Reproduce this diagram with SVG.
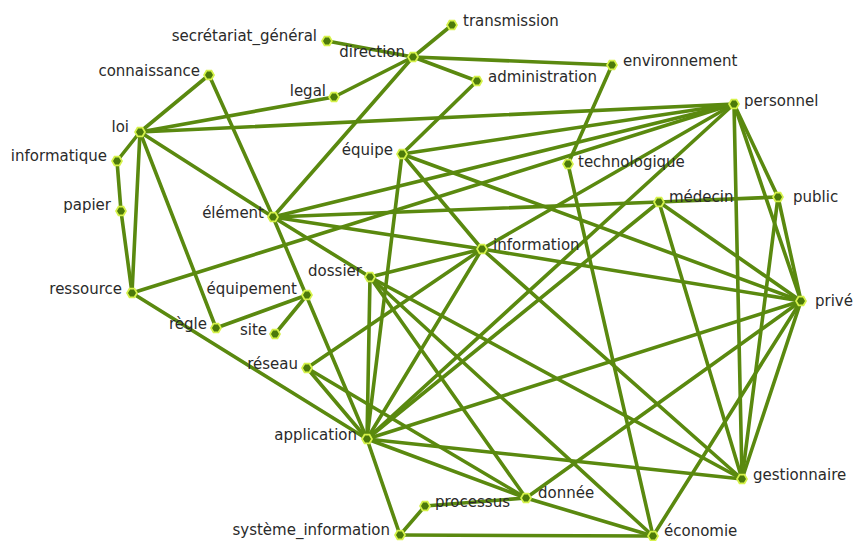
<svg xmlns="http://www.w3.org/2000/svg" xmlns:xlink="http://www.w3.org/1999/xlink" width="855" height="541" viewBox="0 0 855 541">
<style>
.e line{stroke:#5a890f;stroke-width:3.6;stroke-linecap:round}
.n use{fill:#4c7a0a;stroke:#d6f24a;stroke-width:1.7}
text{font-family:"DejaVu Sans","Liberation Sans",sans-serif;font-size:15px;fill:#2a2a2a}
.r{text-anchor:end}
</style>
<defs>
<polygon id="hx" points="5,0 2.5,4.3 -2.5,4.3 -5,0 -2.5,-4.3 2.5,-4.3"/>
</defs>
<rect width="855" height="541" fill="#ffffff"/>
<g class="e" id="connectors">
<line x1="327" y1="41" x2="413" y2="57"/>
<line x1="413" y1="57" x2="452" y2="25"/>
<line x1="413" y1="57" x2="612" y2="65"/>
<line x1="413" y1="57" x2="477" y2="81"/>
<line x1="413" y1="57" x2="334" y2="97"/>
<line x1="413" y1="57" x2="273" y2="217"/>
<line x1="477" y1="81" x2="402" y2="154"/>
<line x1="612" y1="65" x2="568" y2="164"/>
<line x1="568" y1="164" x2="653" y2="536"/>
<line x1="334" y1="97" x2="140" y2="132"/>
<line x1="209" y1="75" x2="140" y2="132"/>
<line x1="209" y1="75" x2="273" y2="217"/>
<line x1="273" y1="217" x2="367" y2="439"/>
<line x1="140" y1="132" x2="117" y2="161"/>
<line x1="140" y1="132" x2="734" y2="104"/>
<line x1="140" y1="132" x2="132" y2="293"/>
<line x1="140" y1="132" x2="216" y2="328"/>
<line x1="140" y1="132" x2="273" y2="217"/>
<line x1="117" y1="161" x2="121" y2="211"/>
<line x1="121" y1="211" x2="132" y2="293"/>
<line x1="132" y1="293" x2="734" y2="104"/>
<line x1="132" y1="293" x2="367" y2="439"/>
<line x1="216" y1="328" x2="307" y2="295"/>
<line x1="307" y1="295" x2="275" y2="334"/>
<line x1="273" y1="217" x2="734" y2="104"/>
<line x1="273" y1="217" x2="659" y2="202"/>
<line x1="659" y1="202" x2="778" y2="197"/>
<line x1="273" y1="217" x2="482" y2="249"/>
<line x1="482" y1="249" x2="801" y2="301"/>
<line x1="273" y1="217" x2="370" y2="277"/>
<line x1="370" y1="277" x2="742" y2="479"/>
<line x1="370" y1="277" x2="367" y2="439"/>
<line x1="370" y1="277" x2="526" y2="498"/>
<line x1="370" y1="277" x2="482" y2="249"/>
<line x1="370" y1="277" x2="653" y2="536"/>
<line x1="402" y1="154" x2="734" y2="104"/>
<line x1="402" y1="154" x2="367" y2="439"/>
<line x1="402" y1="154" x2="482" y2="249"/>
<line x1="402" y1="154" x2="801" y2="301"/>
<line x1="482" y1="249" x2="734" y2="104"/>
<line x1="482" y1="249" x2="367" y2="439"/>
<line x1="482" y1="249" x2="742" y2="479"/>
<line x1="482" y1="249" x2="307" y2="368"/>
<line x1="307" y1="368" x2="367" y2="439"/>
<line x1="307" y1="368" x2="526" y2="498"/>
<line x1="734" y1="104" x2="367" y2="439"/>
<line x1="659" y1="202" x2="367" y2="439"/>
<line x1="734" y1="104" x2="742" y2="479"/>
<line x1="734" y1="104" x2="778" y2="197"/>
<line x1="734" y1="104" x2="801" y2="301"/>
<line x1="659" y1="202" x2="801" y2="301"/>
<line x1="659" y1="202" x2="742" y2="479"/>
<line x1="778" y1="197" x2="801" y2="301"/>
<line x1="778" y1="197" x2="742" y2="479"/>
<line x1="801" y1="301" x2="742" y2="479"/>
<line x1="801" y1="301" x2="653" y2="536"/>
<line x1="801" y1="301" x2="526" y2="498"/>
<line x1="801" y1="301" x2="367" y2="439"/>
<line x1="367" y1="439" x2="742" y2="479"/>
<line x1="367" y1="439" x2="526" y2="498"/>
<line x1="367" y1="439" x2="400" y2="535"/>
<line x1="400" y1="535" x2="425" y2="506"/>
<line x1="400" y1="535" x2="653" y2="536"/>
<line x1="425" y1="506" x2="526" y2="498"/>
<line x1="526" y1="498" x2="653" y2="536"/>
</g>
<g class="n" id="n-transmission"><use xlink:href="#hx" x="452" y="25"/><text x="463" y="26">transmission</text></g>
<g class="n" id="n-secretariat_general"><use xlink:href="#hx" x="327" y="41"/><text class="r" x="317" y="41">secrétariat_général</text></g>
<g class="n" id="n-direction"><use xlink:href="#hx" x="413" y="57"/><text class="r" x="405" y="57">direction</text></g>
<g class="n" id="n-environnement"><use xlink:href="#hx" x="612" y="65"/><text x="623" y="66">environnement</text></g>
<g class="n" id="n-administration"><use xlink:href="#hx" x="477" y="81"/><text x="488" y="82">administration</text></g>
<g class="n" id="n-connaissance"><use xlink:href="#hx" x="209" y="75"/><text class="r" x="200" y="76">connaissance</text></g>
<g class="n" id="n-legal"><use xlink:href="#hx" x="334" y="97"/><text class="r" x="326" y="96">legal</text></g>
<g class="n" id="n-personnel"><use xlink:href="#hx" x="734" y="104"/><text x="744" y="106">personnel</text></g>
<g class="n" id="n-loi"><use xlink:href="#hx" x="140" y="132"/><text class="r" x="129" y="132">loi</text></g>
<g class="n" id="n-informatique"><use xlink:href="#hx" x="117" y="161"/><text class="r" x="107" y="161">informatique</text></g>
<g class="n" id="n-equipe"><use xlink:href="#hx" x="402" y="154"/><text class="r" x="393" y="155">équipe</text></g>
<g class="n" id="n-technologique"><use xlink:href="#hx" x="568" y="164"/><text x="578" y="167">technologique</text></g>
<g class="n" id="n-papier"><use xlink:href="#hx" x="121" y="211"/><text class="r" x="111" y="210">papier</text></g>
<g class="n" id="n-element"><use xlink:href="#hx" x="273" y="217"/><text class="r" x="264" y="218">élément</text></g>
<g class="n" id="n-medecin"><use xlink:href="#hx" x="659" y="202"/><text x="669" y="202">médecin</text></g>
<g class="n" id="n-public"><use xlink:href="#hx" x="778" y="197"/><text x="793" y="202">public</text></g>
<g class="n" id="n-information"><use xlink:href="#hx" x="482" y="249"/><text x="493" y="250">information</text></g>
<g class="n" id="n-ressource"><use xlink:href="#hx" x="132" y="293"/><text class="r" x="122" y="294">ressource</text></g>
<g class="n" id="n-dossier"><use xlink:href="#hx" x="370" y="277"/><text class="r" x="362" y="276">dossier</text></g>
<g class="n" id="n-equipement"><use xlink:href="#hx" x="307" y="295"/><text class="r" x="297" y="294">équipement</text></g>
<g class="n" id="n-regle"><use xlink:href="#hx" x="216" y="328"/><text class="r" x="207" y="329">règle</text></g>
<g class="n" id="n-site"><use xlink:href="#hx" x="275" y="334"/><text class="r" x="267" y="335">site</text></g>
<g class="n" id="n-prive"><use xlink:href="#hx" x="801" y="301"/><text x="815" y="306">privé</text></g>
<g class="n" id="n-reseau"><use xlink:href="#hx" x="307" y="368"/><text class="r" x="298" y="369">réseau</text></g>
<g class="n" id="n-application"><use xlink:href="#hx" x="367" y="439"/><text class="r" x="357" y="440">application</text></g>
<g class="n" id="n-gestionnaire"><use xlink:href="#hx" x="742" y="479"/><text x="753" y="480">gestionnaire</text></g>
<g class="n" id="n-processus"><use xlink:href="#hx" x="425" y="506"/><text x="435" y="507">processus</text></g>
<g class="n" id="n-donnee"><use xlink:href="#hx" x="526" y="498"/><text x="538" y="498">donnée</text></g>
<g class="n" id="n-systeme_information"><use xlink:href="#hx" x="400" y="535"/><text class="r" x="390" y="535">système_information</text></g>
<g class="n" id="n-economie"><use xlink:href="#hx" x="653" y="536"/><text x="664" y="536">économie</text></g>
</svg>
